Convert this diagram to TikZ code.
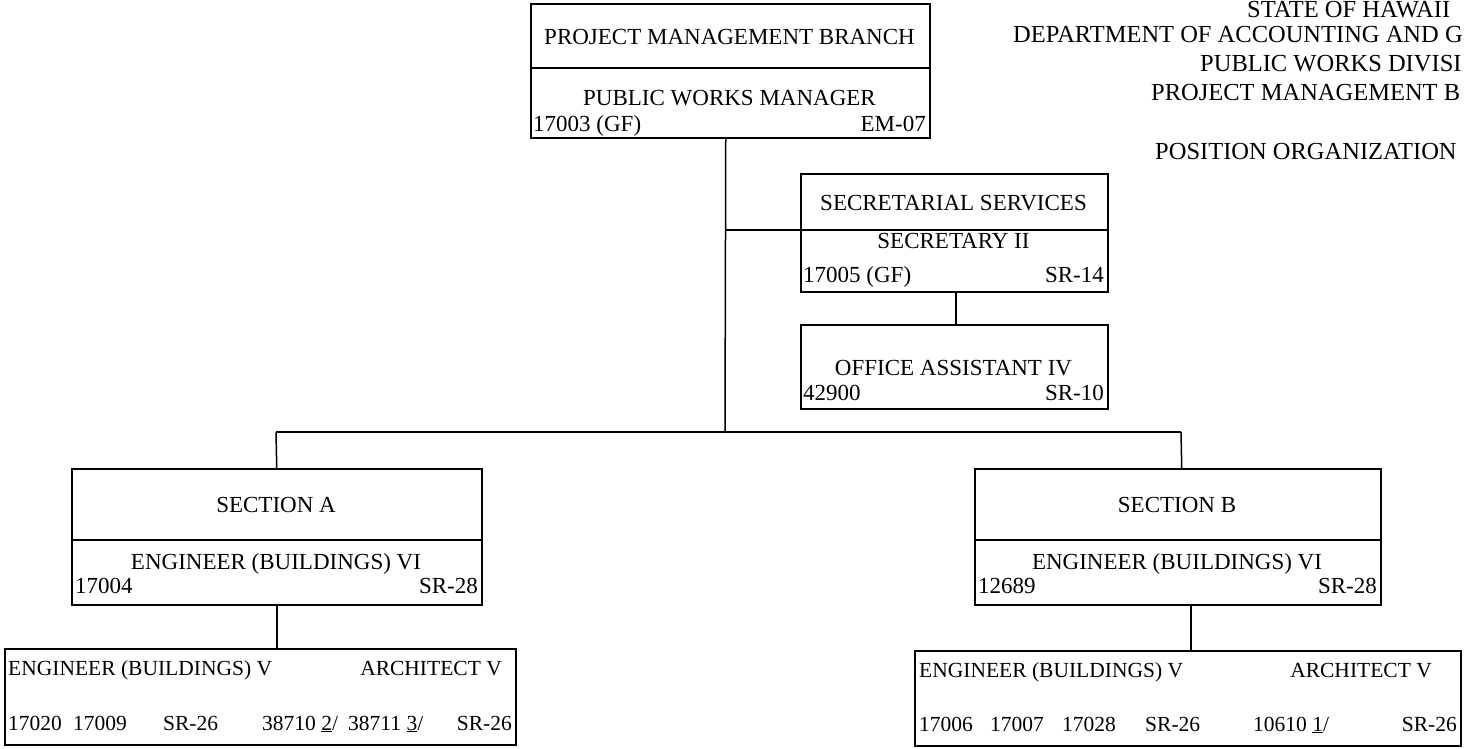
\documentclass[tikz,border=0pt]{standalone}
\usepackage{fontspec}
\setmainfont{Liberation Serif}
\begin{document}
\begin{tikzpicture}[x=1pt,y=-1pt,
  box/.style={draw, line width=1.5pt, inner sep=0pt, anchor=north west},
  lbl/.style={inner sep=0pt, font=\fontsize{23}{26}\selectfont},
  ttl/.style={inner sep=0pt, anchor=base west, font=\fontsize{24.5}{28}\selectfont},
  sml/.style={inner sep=0pt, font=\fontsize{21.5}{24}\selectfont},
  link/.style={line width=1.5pt},
  divline/.style={line width=1.5pt}]
\useasboundingbox (0,0) rectangle (1467,748);
% title, cut at the right edge as in the reference
\node[ttl] (t1) at (1247,17) {STATE OF HAWAII};
\node[ttl] (t2) at (1013,42) {DEPARTMENT OF ACCOUNTING AND G};
\node[ttl] (t3) at (1200,71) {PUBLIC WORKS DIVISI};
\node[ttl] (t4) at (1151,100) {PROJECT MANAGEMENT B};
\node[ttl] (t5) at (1155,159) {POSITION ORGANIZATION};

% Project management branch
\node[box, minimum width=399pt, minimum height=134pt] (pmb) at (530,3) {};
\draw[divline] (pmb.west |- 0,68) -- (pmb.east |- 0,68);
\node[lbl, anchor=base] (pmbT) at (729.5,44) {PROJECT MANAGEMENT BRANCH};
\node[lbl, anchor=base] (pmbP) at (729.5,105) {PUBLIC WORKS MANAGER};
\node[lbl, anchor=base west] (pmbN) at (533,131) {17003 (GF)};
\node[lbl, anchor=base east] (pmbG) at (926,131) {EM-07};

% Secretarial services
\node[box, minimum width=307pt, minimum height=118pt] (sec) at (800,173) {};
\draw[divline] (sec.west |- 0,230) -- (sec.east |- 0,230);
\node[lbl, anchor=base] (secT) at (953.5,210) {SECRETARIAL SERVICES};
\node[lbl, anchor=base] (secP) at (953.5,248) {SECRETARY II};
\node[lbl, anchor=base west] (secN) at (803,282) {17005 (GF)};
\node[lbl, anchor=base east] (secG) at (1104,282) {SR-14};

% Office assistant
\node[box, minimum width=307pt, minimum height=84pt] (oa) at (800,324) {};
\node[lbl, anchor=base] (oaP) at (953.5,375) {OFFICE ASSISTANT IV};
\node[lbl, anchor=base west] (oaN) at (803,400) {42900};
\node[lbl, anchor=base east] (oaG) at (1104,400) {SR-10};

% Section A
\node[box, minimum width=410pt, minimum height=136pt] (sa) at (71,468) {};
\draw[divline] (sa.west |- 0,540) -- (sa.east |- 0,540);
\node[lbl, anchor=base] (saT) at (276,512) {SECTION A};
\node[lbl, anchor=base] (saP) at (276,569) {ENGINEER (BUILDINGS) VI};
\node[lbl, anchor=base west] (saN) at (75,593) {17004};
\node[lbl, anchor=base east] (saG) at (478,593) {SR-28};

% Section B
\node[box, minimum width=406pt, minimum height=136pt] (sb) at (974,468) {};
\draw[divline] (sb.west |- 0,540) -- (sb.east |- 0,540);
\node[lbl, anchor=base] (sbT) at (1177,512) {SECTION B};
\node[lbl, anchor=base] (sbP) at (1177,569) {ENGINEER (BUILDINGS) VI};
\node[lbl, anchor=base west] (sbN) at (978,593) {12689};
\node[lbl, anchor=base east] (sbG) at (1377,593) {SR-28};

% Section A staff
\node[box, minimum width=511pt, minimum height=96pt] (ua) at (4,648) {};
\node[sml, anchor=base west] (uaE) at (8,675) {ENGINEER (BUILDINGS) V};
\node[sml, anchor=base east] (uaA) at (502,675) {ARCHITECT V};
\node[sml, anchor=base west] (ua1) at (8,730) {17020};
\node[sml, anchor=base west] (ua2) at (73,730) {17009};
\node[sml, anchor=base west] (ua3) at (163,730) {SR-26};
\node[sml, anchor=base west] (ua4) at (262,730) {38710 \underline{2}/};
\node[sml, anchor=base west] (ua5) at (348,730) {38711 \underline{3}/};
\node[sml, anchor=base east] (ua6) at (512,730) {SR-26};

% Section B staff
\node[box, minimum width=546pt, minimum height=95pt] (ub) at (914,650) {};
\node[sml, anchor=base west] (ubE) at (919,677) {ENGINEER (BUILDINGS) V};
\node[sml, anchor=base east] (ubA) at (1432,677) {ARCHITECT V};
\node[sml, anchor=base west] (ub1) at (919,731) {17006};
\node[sml, anchor=base west] (ub2) at (990,731) {17007};
\node[sml, anchor=base west] (ub3) at (1062,731) {17028};
\node[sml, anchor=base west] (ub4) at (1145,731) {SR-26};
\node[sml, anchor=base west] (ub5) at (1253,731) {10610 \underline{1}/};
\node[sml, anchor=base east] (ub6) at (1457,731) {SR-26};

% junctions
\coordinate (jmain) at (725,432);
\coordinate (jsec) at (725,230);
\coordinate (jA) at (276,432);
\coordinate (jB) at (1181,432);

% connectors
\draw[link] ([xshift=-4.5pt]pmb.south) -- (jmain);
\draw[link] (jsec) -- (sec.west |- jsec);
\draw[link] ([xshift=1.5pt]sec.south) -- ([xshift=1.5pt]oa.north);
\draw[link] (jA) -- (jB);
\draw[link] (jA) -- (sa.north);
\draw[link] (jB) -- ([xshift=4pt]sb.north);
\draw[link] (sa.south) -- (sa.south |- ua.north);
\draw[link] ([xshift=13pt]sb.south) -- ([xshift=13pt]sb.south |- ub.north);
\end{tikzpicture}
\end{document}
